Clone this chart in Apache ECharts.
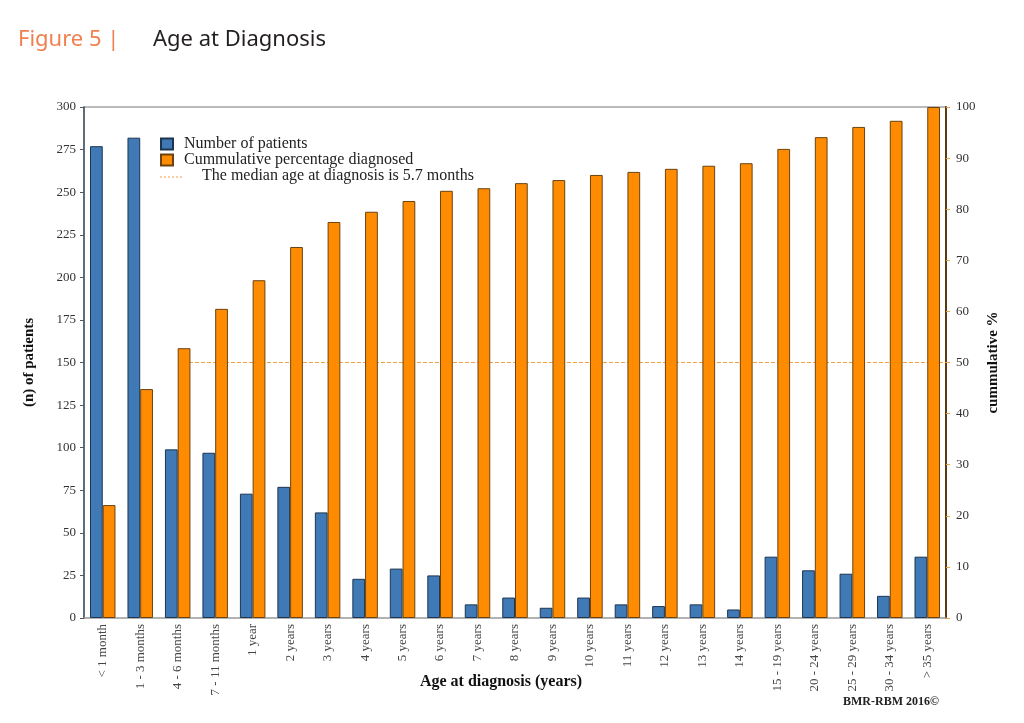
<!DOCTYPE html>
<html><head><meta charset="utf-8">
<script src="https://cdn.jsdelivr.net/npm/echarts@6/dist/echarts.min.js"></script>
<style>html,body{margin:0;padding:0;background:#fff}#c{width:1024px;height:723px}</style>
</head><body><div id="c"></div>
<script>
const categories = ['< 1 month','1 - 3 months','4 - 6 months','7 - 11 months','1 year','2 years','3 years','4 years','5 years','6 years','7 years','8 years','9 years','10 years','11 years','12 years','13 years','14 years','15 - 19 years','20 - 24 years','25 - 29 years','30 - 34 years','> 35 years'];
const patients = [277,282,99,97,73,77,62,23,29,25,8,12,6,12,8,7,8,5,36,28,26,13,36];
const cumulative = [22.1,44.8,52.8,60.5,66.1,72.6,77.5,79.5,81.6,83.6,84.1,85.1,85.7,86.7,87.3,87.9,88.5,89.0,91.8,94.1,96.1,97.3,100];
const medianLine = [[2.8,50],[23,50]];
const leftTicks = {min:0,max:300,interval:25};
const rightTicks = {min:0,max:100,interval:10};

const serif = '"Liberation Serif", "Times New Roman", serif';
const chart = echarts.init(document.getElementById('c'));
chart.setOption({
  backgroundColor:'#fff',
  animation:false,
  graphic:[
    {type:'text',left:18,top:29,style:{text:'Figure 5 |',font:'22px "Noto Sans"',fill:'#f0804f'}},
    {type:'text',left:153,top:29,style:{text:'Age at Diagnosis',font:'22px "Noto Sans"',fill:'#231f20'}},
    {type:'text',left:843,top:696,style:{text:'BMR-RBM 2016©',font:'bold 12px '+serif,fill:'#222'}},
    {type:'line',shape:{x1:84,y1:107,x2:946,y2:107},style:{stroke:'#777',lineWidth:1}},
    {type:'line',shape:{x1:160,y1:177,x2:182,y2:177},style:{stroke:'#f5a040',lineWidth:1,lineDash:[2,2]}},
    {type:'text',left:202,top:168,style:{text:'The median age at diagnosis is 5.7 months',font:'16px '+serif,fill:'#222'}}
  ],
  legend:{
    left:155,top:131,orient:'vertical',itemGap:0,itemWidth:12,itemHeight:11,
    textStyle:{fontFamily:serif,fontSize:16,color:'#222',padding:[0,0,0,6]},
    data:[
      {name:'Number of patients',icon:'rect'},
      {name:'Cummulative percentage diagnosed',icon:'rect'}
    ]
  },
  grid:{left:84,right:78,top:107,bottom:105},
  xAxis:[
    {type:'category',data:categories,
     axisLine:{lineStyle:{color:'#999',width:1.5}},axisTick:{show:false},
     axisLabel:{rotate:90,interval:0,fontFamily:serif,fontSize:13,color:'#444',margin:6},
     name:'Age at diagnosis (years)',nameLocation:'middle',nameGap:56,nameMoveOverlap:false,
     nameTextStyle:{fontFamily:serif,fontSize:16,fontWeight:'bold',color:'#111',padding:[0,28,0,0]}},
    {type:'value',min:0,max:23,show:false}
  ],
  yAxis:[
    {type:'value',min:leftTicks.min,max:leftTicks.max,interval:leftTicks.interval,
     splitLine:{show:false},
     axisLine:{show:true,lineStyle:{color:'#2b3d52',width:1.5}},
     axisTick:{show:true,length:4,lineStyle:{color:'#555'}},
     axisLabel:{fontFamily:serif,fontSize:13,color:'#333',margin:8},
     name:'(n) of patients',nameLocation:'middle',nameGap:47,nameRotate:90,nameMoveOverlap:false,
     nameTextStyle:{fontFamily:serif,fontSize:15,fontWeight:'bold',color:'#111'}},
    {type:'value',min:rightTicks.min,max:rightTicks.max,interval:rightTicks.interval,
     splitLine:{show:false},position:'right',
     axisLine:{show:true,lineStyle:{color:'#5a3a10',width:2}},
     axisTick:{show:true,length:4,lineStyle:{color:'#f5a040'}},
     axisLabel:{fontFamily:serif,fontSize:13,color:'#333',margin:10},
     name:'cummulative %',nameLocation:'middle',nameGap:40,nameRotate:90,nameMoveOverlap:false,
     nameTextStyle:{fontFamily:serif,fontSize:15,fontWeight:'bold',color:'#111'}}
  ],
  series:[
    {name:'Number of patients',type:'bar',data:patients,barWidth:'34%',barGap:'0%',
     itemStyle:{color:'#3f79b6',borderColor:'#1e3550',borderWidth:1}},
    {name:'Cummulative percentage diagnosed',type:'bar',yAxisIndex:1,data:cumulative,barWidth:'34%',barGap:'0%',
     itemStyle:{color:'#ff8c00',borderColor:'#6b4210',borderWidth:1}},
    {name:'median',type:'line',xAxisIndex:1,yAxisIndex:1,data:medianLine,
     symbol:'none',lineStyle:{color:'#f5a040',type:'dashed',width:1},z:1}
  ]
});
</script></body></html>
